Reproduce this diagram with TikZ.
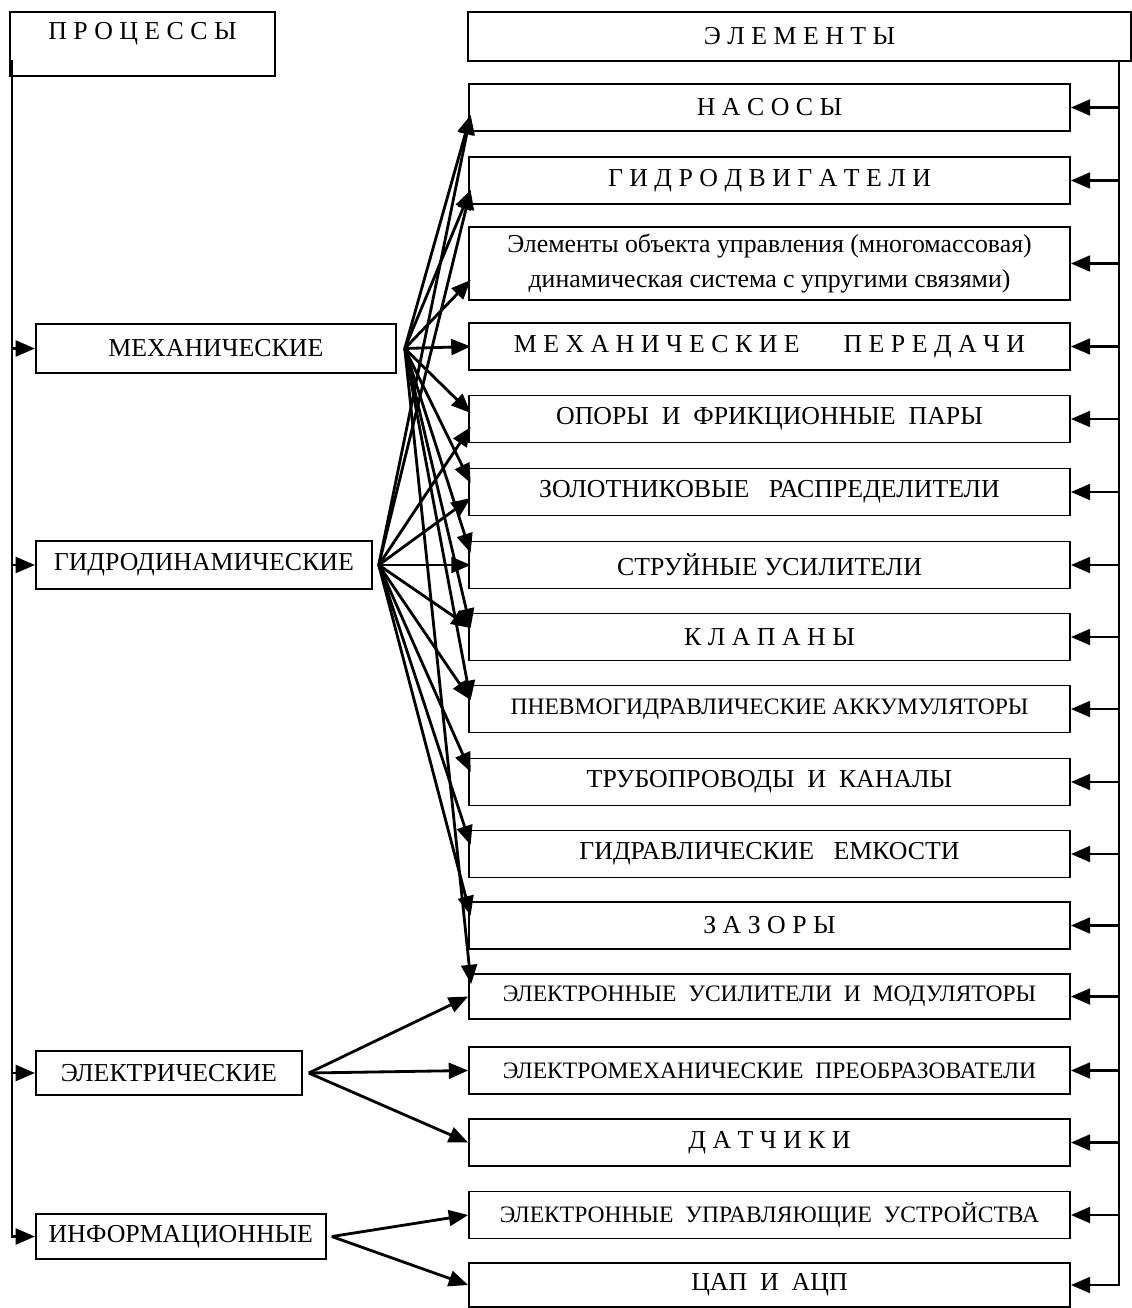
\documentclass[tikz,border=0pt]{standalone}
\usepackage{fontspec}
\setmainfont{Liberation Serif}
\usetikzlibrary{arrows.meta,calc}

\begin{document}
\begin{tikzpicture}[font=\fontsize{14.7}{17}\selectfont, >={Triangle[length=11pt,width=9pt]},
    bx/.style={draw, line width=1pt, inner sep=0pt, minimum height=0.94cm},
    elbox/.style={bx, minimum width=12.02cm},
    small/.style={font=\fontsize{13.4}{16}\selectfont},
    ar/.style={->, line width=1.6pt}]
  \useasboundingbox (0,0) rectangle (22.62,-26.16);
  % headers
  \node[bx, minimum width=5.3cm, minimum height=1.28cm,
        label={[yshift=0.2cm]center:П Р О Ц Е С С Ы}] (proc) at (2.85,-0.88) {};
  \node[bx, minimum width=13.26cm, minimum height=0.98cm] (elem) at (15.99,-0.73) {Э Л Е М Е Н Т Ы};
  % processes
  \node[bx, anchor=west, minimum width=7.2cm, minimum height=0.98cm] (mech) at (0.70,-6.97) {МЕХАНИЧЕСКИЕ};
  \node[bx, anchor=west, minimum width=6.72cm, minimum height=0.96cm] (hydr) at (0.70,-11.30) {ГИДРОДИНАМИЧЕСКИЕ};
  \node[bx, anchor=west, minimum width=5.32cm, minimum height=0.88cm] (elec) at (0.70,-21.46) {ЭЛЕКТРИЧЕСКИЕ};
  \node[bx, anchor=west, minimum width=5.8cm, minimum height=0.9cm] (info) at (0.70,-24.73) {ИНФОРМАЦИОННЫЕ};
  % elements
  \node[elbox] (e1) at (15.39,-2.15) {Н А С О С Ы};
  \node[elbox] (e2) at (15.39,-3.61) {Г И Д Р О Д В И Г А Т Е Л И};
  \node[elbox, minimum height=1.46cm, align=center] (e3) at (15.39,-5.27)
    {Элементы объекта управления (многомассовая)\\[3pt]динамическая система с упругими связями)};
  \node[elbox] (e4) at (15.39,-6.93) {М Е Х А Н И Ч Е С К И Е \hspace{1.2em} П Е Р Е Д А Ч И};
  \node[elbox] (e5) at (15.39,-8.38) {ОПОРЫ~ И~ ФРИКЦИОННЫЕ~ ПАРЫ};
  \node[elbox] (e6) at (15.39,-9.84) {ЗОЛОТНИКОВЫЕ~~ РАСПРЕДЕЛИТЕЛИ};
  \node[elbox] (e7) at (15.39,-11.30) {СТРУЙНЫЕ УСИЛИТЕЛИ};
  \node[elbox] (e8) at (15.39,-12.74) {К Л А П А Н Ы};
  \node[elbox, small] (e9) at (15.39,-14.18) {ПНЕВМОГИДРАВЛИЧЕСКИЕ АККУМУЛЯТОРЫ};
  \node[elbox] (e10) at (15.39,-15.64) {ТРУБОПРОВОДЫ~ И~ КАНАЛЫ};
  \node[elbox] (e11) at (15.39,-17.08) {ГИДРАВЛИЧЕСКИЕ~~ ЕМКОСТИ};
  \node[elbox] (e12) at (15.39,-18.51) {З А З О Р Ы};
  \node[elbox, small, minimum height=0.9cm] (e13) at (15.39,-19.93) {ЭЛЕКТРОННЫЕ~ УСИЛИТЕЛИ~ И~ МОДУЛЯТОРЫ};
  \node[elbox, small] (e14) at (15.39,-21.41) {ЭЛЕКТРОМЕХАНИЧЕСКИЕ~ ПРЕОБРАЗОВАТЕЛИ};
  \node[elbox] (e15) at (15.39,-22.85) {Д А Т Ч И К И};
  \node[elbox, small] (e16) at (15.39,-24.30) {ЭЛЕКТРОННЫЕ~ УПРАВЛЯЮЩИЕ~ УСТРОЙСТВА};
  \node[elbox, minimum height=0.88cm] (e17) at (15.39,-25.70) {ЦАП~ И~ АЦП};
  % fan-out points
  \coordinate (ms) at ($(mech.east)+(0.16,0)$);
  \coordinate (hs) at ($(hydr.east)+(0.12,0)$);
  \coordinate (es) at ($(elec.east)+(0.12,0)$);
  \coordinate (is) at ($(info.east)+(0.10,0)$);
  \foreach \t/\dy in {e1/-0.15, e2/-0.19, e3/-0.33, e4/0, e5/0.12, e6/0.18, e7/0.24, e8/0.18, e9/0.18}
    \draw[ar] (ms) -- ($(\t.west)+(0.05,\dy)$);
  \draw[ar] (ms) -- ($(e13.north west)+(0.06,-0.22)$);
  \foreach \t/\dy in {e1/-0.15, e2/-0.19, e5/-0.16, e6/-0.12, e7/0, e8/0.18, e9/0.18, e10/0.2, e11/0.18, e12/0.2}
    \draw[ar] (hs) -- ($(\t.west)+(0.05,\dy)$);
  \foreach \t in {e13,e14,e15}
    \draw[ar] (es) -- (\t.west);
  \foreach \t in {e16,e17}
    \draw[ar] (is) -- (\t.west);
  % left bus
  \coordinate (lb) at (0.24,-1.2);
  \draw[ar] (lb) |- (info.west);
  \foreach \t in {mech,hydr,elec}
    \draw[ar] (lb |- \t.west) -- (\t.west);
  % right bus
  \coordinate (rb) at (22.38,-1.22);
  \draw[ar] (rb) |- (e17.east);
  \foreach \t in {e1,e2,e3,e4,e5,e6,e7,e8,e9,e10,e11,e12,e13,e14,e15,e16}
    \draw[ar] (rb |- \t.east) -- (\t.east);
\end{tikzpicture}
\end{document}
